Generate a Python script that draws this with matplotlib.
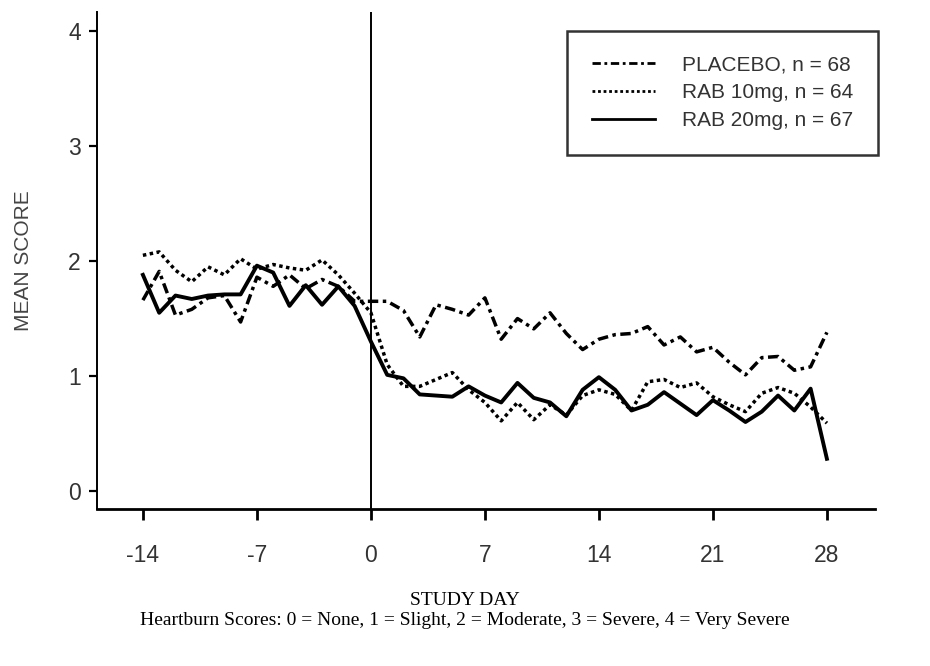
import matplotlib
matplotlib.use("Agg")
import matplotlib.pyplot as plt

days = list(range(-14, 29))

placebo = [1.66, 1.91, 1.53, 1.58, 1.68, 1.70, 1.47, 1.86, 1.78, 1.88, 1.76, 1.84, 1.78, 1.65,
           1.65, 1.65, 1.57, 1.34, 1.62, 1.58, 1.53, 1.68, 1.32, 1.50, 1.41, 1.55, 1.37, 1.23,
           1.32, 1.36, 1.37, 1.43, 1.27, 1.34, 1.21, 1.25, 1.12, 1.01, 1.16, 1.17, 1.05, 1.08, 1.38]
rab10 = [2.05, 2.08, 1.92, 1.82, 1.95, 1.88, 2.02, 1.93, 1.97, 1.94, 1.92, 2.01, 1.88, 1.72,
         1.55, 1.10, 0.91, 0.91, 0.97, 1.03, 0.88, 0.77, 0.61, 0.77, 0.62, 0.75, 0.66, 0.83,
         0.88, 0.84, 0.70, 0.95, 0.97, 0.90, 0.94, 0.82, 0.75, 0.69, 0.85, 0.90, 0.85, 0.73, 0.59]
rab20 = [1.88, 1.55, 1.70, 1.67, 1.70, 1.71, 1.71, 1.96, 1.90, 1.61, 1.79, 1.62, 1.78, 1.61,
         1.30, 1.01, 0.98, 0.84, 0.83, 0.82, 0.91, 0.83, 0.77, 0.94, 0.81, 0.77, 0.65, 0.88,
         0.99, 0.88, 0.70, 0.75, 0.86, 0.76, 0.66, 0.79, 0.70, 0.60, 0.69, 0.83, 0.70, 0.89, 0.28]

labels = ["PLACEBO, n = 68", "RAB 10mg, n = 64", "RAB 20mg, n = 67"]
xticks = [-14, -7, 0, 7, 14, 21, 28]
yticks = [0, 1, 2, 3, 4]

fig = plt.figure(figsize=(9.3, 6.66), dpi=100)
ax = fig.add_axes([0.1048, 0.2357, 0.836, 0.746])

ax.plot(days, placebo, color="black", lw=2.5, linestyle=(0, (3, 1.3, 1, 1.3)), label=labels[0])
ax.plot(days, rab10, color="black", lw=2.5, linestyle=(0, (1, 1)), label=labels[1])
ax.plot(days, rab20, color="black", lw=2.8, linestyle="-", label=labels[2])

ax.axvline(0, color="black", lw=1.4)

ax.set_xlim(-16.79, 30.95)
ax.set_ylim(-0.157, 4.165)
ax.set_xticks(xticks)
ax.set_xticklabels([str(t) for t in xticks])
ax.set_yticks(yticks)

for s in ["top", "right"]:
    ax.spines[s].set_visible(False)
ax.spines["left"].set_linewidth(1.4)
ax.spines["bottom"].set_linewidth(2)

ax.tick_params(axis="x", direction="out", length=8, width=2, labelsize=16.5, pad=17)
ax.tick_params(axis="y", direction="out", length=6, width=1.6, labelsize=16.5, pad=6)
for lab in ax.get_xticklabels() + ax.get_yticklabels():
    lab.set_family("Liberation Sans")
    lab.set_color("#333333")

ax.set_ylabel("MEAN SCORE", family="Liberation Sans", fontsize=15, color="#444444", labelpad=25)

leg = ax.legend(loc="upper right", bbox_to_anchor=(1.004, 0.963), frameon=True, fancybox=False,
                prop={"family": "Liberation Sans", "size": 15}, handlelength=3.0,
                borderpad=1.2, labelspacing=0.42, handletextpad=1.3, borderaxespad=0)
leg.get_frame().set_edgecolor("black")
leg.get_frame().set_linewidth(1.8)
for line in leg.get_lines():
    line.set_linewidth(2.0)
for t in leg.get_texts():
    t.set_color("#333333")

fig.text(0.5, 0.092, "STUDY DAY", ha="center", family="Liberation Serif", fontsize=14)
fig.text(0.5, 0.062, "Heartburn Scores: 0 = None, 1 = Slight, 2 = Moderate, 3 = Severe, 4 = Very Severe",
         ha="center", family="Liberation Serif", fontsize=14)

fig.savefig("out.png", dpi=100)
